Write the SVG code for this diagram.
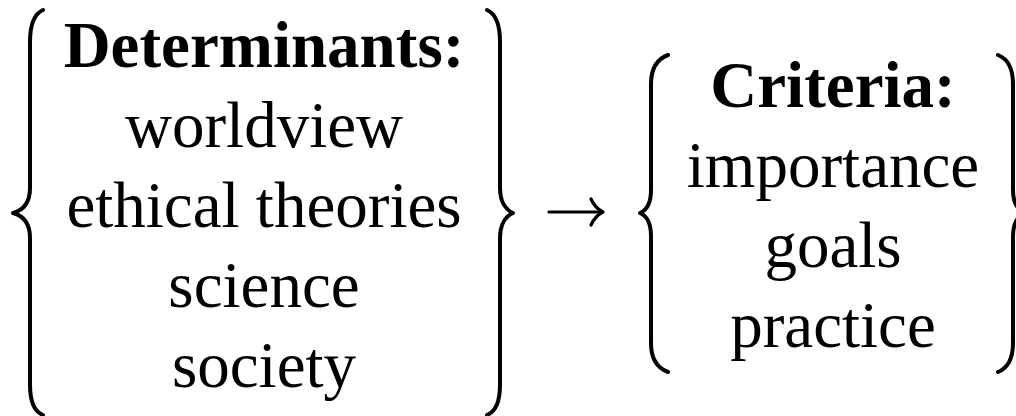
<svg xmlns="http://www.w3.org/2000/svg" width="1016" height="416" viewBox="0 0 1016 416">
  <style>
    .t { font-family: "Liberation Serif", "Times New Roman", serif; font-size: 65px; fill: #000; text-anchor: middle; }
    .b { font-weight: bold; }
    .brace { fill: none; stroke: #000; stroke-width: 4; stroke-linecap: round; stroke-linejoin: round; }
    .conn { fill: none; stroke: #000; stroke-width: 3.2; stroke-linecap: round; stroke-linejoin: round; }
  </style>
  <rect width="1016" height="416" fill="#fff"/>
  <g id="determinants">
    <path class="brace" d="M43,10 C34,14 30,24 30,42 L30,188 C30,202 24,210 13,213 C24,216 30,224 30,238 L30,384 C30,402 34,411 43,415"/>
    <path class="brace" d="M487,10 C496,14 500,24 500,42 L500,188 C500,202 506,210 513,213 C506,216 500,224 500,238 L500,384 C500,402 496,411 487,415"/>
    <text class="t b" x="264" y="67">Determinants:</text>
    <text class="t" x="264" y="147">worldview</text>
    <text class="t" x="264" y="227">ethical theories</text>
    <text class="t" x="264" y="307">science</text>
    <text class="t" x="264" y="387">society</text>
  </g>
  <g id="criteria">
    <path class="brace" d="M668,55 C657,59 651,68 651,84 L651,190 C651,203 647,210 640,213 C647,216 651,223 651,236 L651,343 C651,358 657,368 668,372"/>
    <path class="brace" d="M998,55 C1008,59 1013,68 1013,84 L1013,190 C1013,203 1018,210 1025,213 C1018,216 1013,223 1013,236 L1013,343 C1013,358 1008,368 998,372"/>
    <text class="t b" x="833" y="107">Criteria:</text>
    <text class="t" x="833" y="187">importance</text>
    <text class="t" x="833" y="267">goals</text>
    <text class="t" x="833" y="347">practice</text>
  </g>
  <g id="connectors">
    <path class="conn" d="M549,212 L602,212"/>
    <path class="conn" d="M591,199 Q595,208 603,212 Q595,216 591,225"/>
  </g>
</svg>
